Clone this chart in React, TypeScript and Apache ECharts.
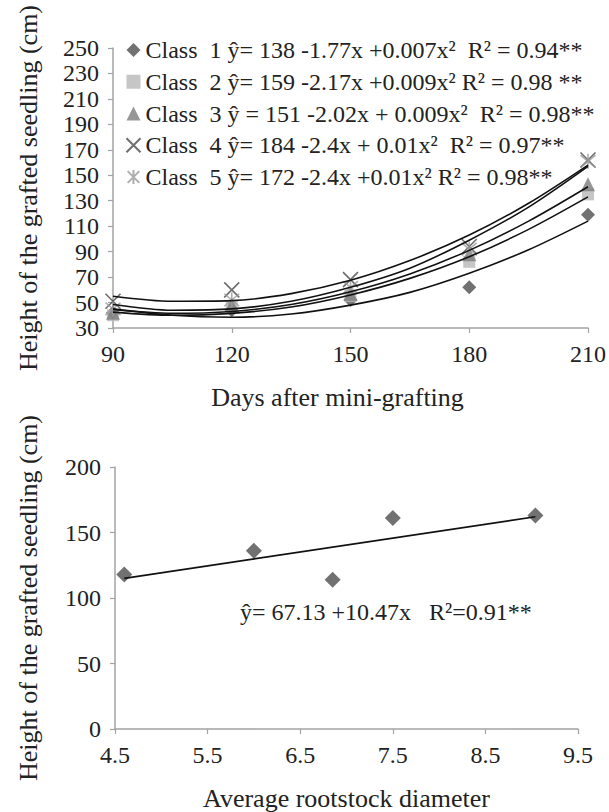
import { useEffect, useRef } from 'react';
import * as echarts from 'echarts';

// ---------- data: top chart (height vs days after mini-grafting) ----------
const days = [90, 120, 150, 180, 210];
const classNames = ['Class 1', 'Class 2', 'Class 3', 'Class 4', 'Class 5'];
const class1 = [42, 44, 52, 62, 119];
const class2 = [40, 47, 55, 82, 135];
const class3 = [42, 48, 57, 88, 143];
const class4 = [51, 60, 68, 94, 162];
const class5 = [45, 52, 62, 92, 161];
// fitted (trend) curves every 15 days
const fitDays = [90, 105, 120, 135, 150, 165, 180, 195, 210];
const fit1 = [45, 40, 38.5, 41, 48, 58, 73, 91.5, 114];
const fit2 = [42.5, 40, 41.5, 46.5, 56, 69, 86, 107.5, 133];
const fit3 = [44.5, 41.5, 43, 48.5, 58.5, 72.5, 91, 114, 141];
const fit4 = [55, 51, 51.5, 57, 67.5, 83, 103, 128, 158];
const fit5 = [48.5, 44, 45, 51, 62, 77, 99, 125, 157];
const equations = [
  '1 ŷ= 138 -1.77x +0.007x²  R² = 0.94**',
  '2 ŷ= 159 -2.17x +0.009x² R² = 0.98 **',
  '3 ŷ = 151 -2.02x + 0.009x²  R² = 0.98**',
  '4 ŷ= 184 -2.4x + 0.01x²  R² = 0.97**',
  '5 ŷ= 172 -2.4x +0.01x² R² = 0.98**',
];
const topYTicks = [30, 50, 70, 90, 110, 130, 150, 170, 190, 210, 230, 250];

// ---------- data: bottom chart (height vs rootstock diameter) ----------
const diameter = [4.6, 6.0, 6.85, 7.5, 9.04];
const heightByDiameter = [118, 136, 114, 161, 163];
const trendDiameter = [4.6, 9.04];
const trendHeight = [115, 162];
const bottomXTicks = [4.5, 5.5, 6.5, 7.5, 8.5, 9.5];
const bottomEquation = 'ŷ= 67.13 +10.47x   R²=0.91**';

const FONT = '"Liberation Serif", "Times New Roman", Times, "DejaVu Serif", serif';
const TEXT = '#222';
const AXIS = '#a3a3a3';

const classValues = [class1, class2, class3, class4, class5];
const classFits = [fit1, fit2, fit3, fit4, fit5];
const classSymbols = [
  'diamond',
  'rect',
  'triangle',
  'path://M0,0L10,10M10,0L0,10',
  'path://M0,0L10,10M10,0L0,10M5,-1L5,11',
];
const classSizes = [14, 12, 14, 15, 15];
const classStyles: any[] = [
  { color: '#4d4d4d' },
  { color: '#b8b8b8' },
  { color: '#7d7d7d' },
  { color: 'none', borderColor: '#4a4a4a', borderWidth: 1.6 },
  { color: 'none', borderColor: '#9a9a9a', borderWidth: 1.6 },
];

const pairs = (xs: number[], ys: number[]) => xs.map((x, i) => [x, ys[i]]);

const axisLabel = { color: TEXT, fontFamily: FONT, fontSize: 24 };
const axisLine = { show: true, onZero: false, lineStyle: { color: AXIS, width: 1.5 } };
const axisTick = { show: true, length: 5, lineStyle: { color: AXIS, width: 1.2 } };
const nameStyle = { color: TEXT, fontFamily: FONT, fontSize: 26 };

export default function App() {
  const ref = useRef<HTMLDivElement>(null);
  useEffect(() => {
    if (!ref.current) return;
    const chart = echarts.init(ref.current, null, { renderer: 'svg' });
    const series: any[] = [];
    classNames.forEach((name, i) => {
      series.push({
        name,
        type: 'scatter',
        xAxisIndex: 0,
        yAxisIndex: 0,
        symbol: classSymbols[i],
        symbolSize: classSizes[i],
        itemStyle: classStyles[i],
        data: pairs(days, classValues[i]),
        z: 2,
      });
    });
    classNames.forEach((name, i) => {
      series.push({
        name: name + ' trend',
        type: 'line',
        xAxisIndex: 0,
        yAxisIndex: 0,
        smooth: 0.3,
        symbol: 'none',
        lineStyle: { color: '#111', width: 1.6 },
        data: pairs(fitDays, classFits[i]),
        z: 3,
      });
    });
    series.push({
      name: 'rootstock',
      type: 'scatter',
      xAxisIndex: 1,
      yAxisIndex: 1,
      symbol: 'diamond',
      symbolSize: 16,
      itemStyle: { color: '#4d4d4d' },
      data: pairs(diameter, heightByDiameter),
      z: 2,
    });
    series.push({
      name: 'rootstock trend',
      type: 'line',
      xAxisIndex: 1,
      yAxisIndex: 1,
      symbol: 'none',
      lineStyle: { color: '#111', width: 1.6 },
      data: pairs(trendDiameter, trendHeight),
      z: 3,
    });

    chart.setOption({
      animation: false,
      backgroundColor: '#fff',
      textStyle: { fontFamily: FONT },
      grid: [
        { left: 113, top: 48, width: 477, height: 280 },
        { left: 115, top: 467, width: 463, height: 263 },
      ],
      legend: {
        data: classNames,
        orient: 'vertical',
        left: 119,
        top: 33,
        itemWidth: 14,
        itemHeight: 14,
        itemGap: 7.75,
        selectedMode: false,
        formatter: (name: string) => {
          const i = classNames.indexOf(name);
          return 'Class\u00a0\u00a0' + equations[i].replace(/  /g, '\u00a0\u00a0');
        },
        textStyle: { color: TEXT, fontFamily: FONT, fontSize: 24, lineHeight: 24 },
      },
      xAxis: [
        {
          type: 'value',
          gridIndex: 0,
          min: 90,
          max: 210,
          interval: 30,
          axisLine,
          axisTick,
          splitLine: { show: false },
          axisLabel: { ...axisLabel, margin: 14 },
          name: 'Days after mini-grafting',
          nameLocation: 'middle',
          nameGap: 56,
          nameTextStyle: { ...nameStyle, padding: [0, 26, 0, 0] },
        },
        {
          type: 'value',
          gridIndex: 1,
          min: 4.5,
          max: 9.5,
          axisLine,
          axisTick: { ...axisTick, customValues: bottomXTicks },
          splitLine: { show: false },
          axisLabel: { ...axisLabel, margin: 14, customValues: bottomXTicks, formatter: (v: number) => v.toFixed(1) },
          name: 'Average rootstock diameter',
          nameLocation: 'middle',
          nameGap: 56,
          nameTextStyle: nameStyle,
        },
      ],
      yAxis: [
        {
          type: 'value',
          gridIndex: 0,
          min: 30,
          max: 250,
          axisLine,
          axisTick: { ...axisTick, customValues: topYTicks },
          splitLine: { show: false },
          axisLabel: { ...axisLabel, margin: 14, customValues: topYTicks },
          name: 'Height of the grafted seedling (cm)',
          nameLocation: 'middle',
          nameGap: 72,
          nameTextStyle: nameStyle,
        },
        {
          type: 'value',
          gridIndex: 1,
          min: 0,
          max: 200,
          interval: 50,
          axisLine,
          axisTick,
          splitLine: { show: false },
          axisLabel: { ...axisLabel, margin: 14 },
          name: 'Height of the grafted seedling (cm)',
          nameLocation: 'middle',
          nameGap: 74,
          nameTextStyle: nameStyle,
        },
      ],
      graphic: [
        {
          type: 'text',
          left: 240,
          top: 600,
          style: { text: bottomEquation, fill: TEXT, font: `24px ${FONT}` },
        },
      ],
      series,
    });
    return () => chart.dispose();
  }, []);
  return (
    <div
      ref={ref}
      style={{ position: 'fixed', left: 0, top: 0, width: 609, height: 812, background: '#fff' }}
    />
  );
}
